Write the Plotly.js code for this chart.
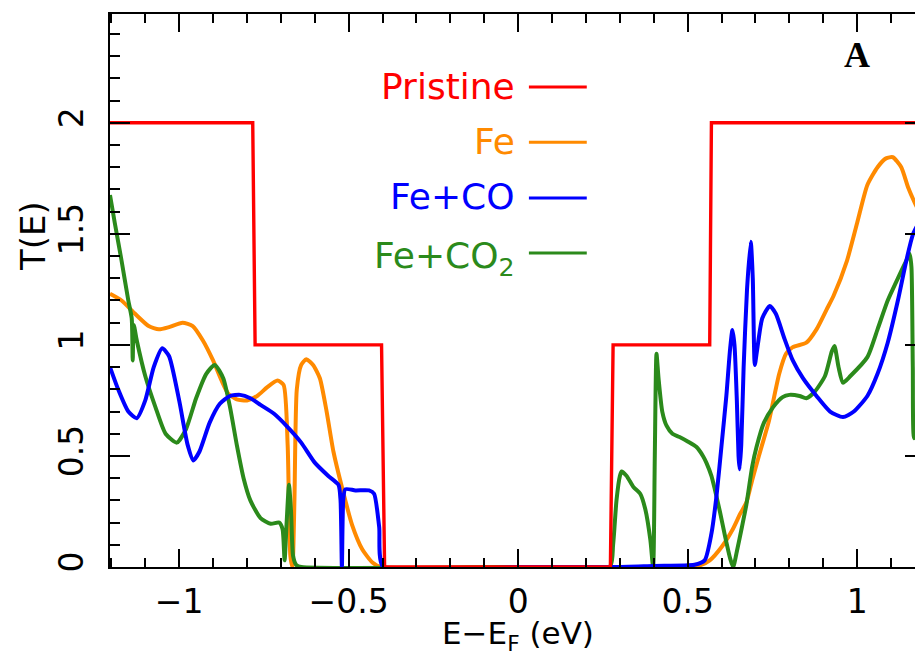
<!DOCTYPE html>
<html>
<head>
<meta charset="utf-8">
<script src="https://cdn.plot.ly/plotly-3.0.1.min.js"></script>
<style>
  html, body { margin: 0; padding: 0; background: #fff; overflow: hidden; }
  #chart { width: 940px; height: 660px; }
</style>
</head>
<body>
<div id="chart"></div>
<script>
// ---- Data ----
const seriesNames = ["Pristine", "Fe", "Fe+CO", "Fe+CO<sub>2</sub>"];

const xPristine = [-1.25, -0.783, -0.776, -0.403, -0.394, 0.272, 0.280, 0.565, 0.570, 1.25];
const yPristine = [2, 2, 1, 1, 0, 0, 1, 1, 2, 2];

const xFe = [-1.204, -1.17, -1.13, -1.09, -1.06, -1.03, -0.99, -0.96, -0.93, -0.90, -0.875, -0.855, -0.83, -0.80, -0.77, -0.74, -0.71, -0.692, -0.680, -0.672, -0.666, -0.660, -0.653, -0.64, -0.625, -0.605, -0.585, -0.565, -0.545, -0.52, -0.49, -0.46, -0.43, -0.405, 0.0, 0.40, 0.50, 0.54, 0.565, 0.60, 0.633, 0.655, 0.673, 0.69, 0.71, 0.74, 0.77, 0.79, 0.81, 0.85, 0.88, 0.91, 0.93, 0.97, 1.00, 1.03, 1.06, 1.085, 1.105, 1.13, 1.15, 1.17, 1.2];
const yFe = [1.23, 1.20, 1.14, 1.085, 1.07, 1.08, 1.10, 1.085, 1.02, 0.93, 0.84, 0.78, 0.755, 0.75, 0.77, 0.81, 0.84, 0.82, 0.55, 0.05, 0.0, 0.3, 0.8, 0.91, 0.935, 0.91, 0.85, 0.70, 0.52, 0.36, 0.19, 0.08, 0.02, 0.0, 0.0, 0.0, 0.0, 0.01, 0.03, 0.09, 0.17, 0.24, 0.29, 0.39, 0.50, 0.66, 0.87, 0.96, 0.99, 1.01, 1.07, 1.16, 1.22, 1.38, 1.55, 1.72, 1.80, 1.84, 1.845, 1.80, 1.71, 1.64, 1.55];

const xFeCO = [-1.204, -1.18, -1.15, -1.125, -1.10, -1.075, -1.05, -1.03, -1.00, -0.975, -0.958, -0.94, -0.91, -0.88, -0.85, -0.82, -0.79, -0.76, -0.72, -0.68, -0.64, -0.60, -0.56, -0.53, -0.524, -0.520, -0.516, -0.51, -0.48, -0.44, -0.425, -0.41, -0.398, 0.0, 0.28, 0.40, 0.52, 0.55, 0.57, 0.585, 0.60, 0.614, 0.625, 0.632, 0.638, 0.645, 0.650, 0.653, 0.658, 0.665, 0.675, 0.686, 0.692, 0.698, 0.705, 0.72, 0.742, 0.76, 0.785, 0.81, 0.84, 0.88, 0.92, 0.958, 0.99, 1.03, 1.06, 1.09, 1.12, 1.145, 1.165, 1.2];
const yFeCO = [0.90, 0.80, 0.70, 0.67, 0.75, 0.90, 0.985, 0.95, 0.75, 0.55, 0.48, 0.52, 0.65, 0.735, 0.77, 0.775, 0.76, 0.73, 0.69, 0.63, 0.56, 0.47, 0.41, 0.37, 0.30, 0.0, 0.30, 0.35, 0.345, 0.345, 0.33, 0.18, 0.0, 0.0, 0.0, 0.005, 0.01, 0.03, 0.15, 0.32, 0.55, 0.77, 0.98, 1.067, 1.0, 0.75, 0.50, 0.44, 0.55, 0.9, 1.25, 1.465, 1.3, 0.91, 0.98, 1.12, 1.175, 1.14, 1.03, 0.93, 0.85, 0.77, 0.70, 0.675, 0.70, 0.77, 0.87, 1.01, 1.20, 1.38, 1.50, 1.60];

const xFeCO2 = [-1.204, -1.19, -1.17, -1.15, -1.14, -1.137, -1.134, -1.125, -1.10, -1.07, -1.04, -1.007, -0.98, -0.95, -0.92, -0.895, -0.87, -0.85, -0.83, -0.81, -0.79, -0.76, -0.73, -0.705, -0.695, -0.689, -0.683, -0.676, -0.670, -0.664, -0.655, -0.64, 0.0, 0.27, 0.28, 0.29, 0.30, 0.305, 0.32, 0.34, 0.36, 0.375, 0.39, 0.398, 0.403, 0.408, 0.414, 0.425, 0.438, 0.455, 0.476, 0.50, 0.526, 0.545, 0.555, 0.57, 0.58, 0.595, 0.61, 0.625, 0.634, 0.645, 0.66, 0.673, 0.69, 0.703, 0.725, 0.752, 0.78, 0.80, 0.83, 0.85, 0.875, 0.905, 0.925, 0.933, 0.945, 0.958, 0.98, 1.03, 1.06, 1.09, 1.12, 1.145, 1.155, 1.16, 1.164, 1.168, 1.18, 1.2];
const yFeCO2 = [1.675, 1.55, 1.38, 1.20, 1.12, 0.93, 1.09, 1.02, 0.86, 0.72, 0.60, 0.56, 0.62, 0.76, 0.87, 0.91, 0.85, 0.72, 0.55, 0.40, 0.30, 0.22, 0.195, 0.20, 0.17, 0.03, 0.2, 0.37, 0.25, 0.05, 0.01, 0.0, 0.0, 0.0, 0.10, 0.30, 0.41, 0.43, 0.41, 0.36, 0.33, 0.26, 0.12, 0.0, 0.5, 0.96, 0.85, 0.70, 0.635, 0.60, 0.585, 0.565, 0.54, 0.50, 0.47, 0.41, 0.35, 0.25, 0.14, 0.04, 0.0, 0.07, 0.18, 0.28, 0.45, 0.54, 0.65, 0.72, 0.765, 0.775, 0.77, 0.76, 0.79, 0.86, 0.97, 0.995, 0.90, 0.83, 0.86, 0.945, 1.07, 1.20, 1.30, 1.38, 1.41, 1.35, 0.9, 0.58, 0.62, 0.70];

const xTickVals = [-1, -0.5, 0, 0.5, 1];
const xTickText = ["\u22121", "\u22120.5", "0", "0.5", "1"];
const yTickVals = [0, 0.5, 1, 1.5, 2];
const yTickText = ["0", "0.5", "1", "1.5", "2"];

const colors = ["#ff0000", "#ff8a00", "#0000ff", "#2b8a1b"];

// ---- Traces ----
const curveLine = (c) => ({ color: c, width: 4, shape: "spline", smoothing: 0.6 });
const traces = [
  { x: xFe, y: yFe, mode: "lines", line: curveLine(colors[1]), name: seriesNames[1] },
  { x: xFeCO2, y: yFeCO2, mode: "lines", line: curveLine(colors[3]), name: seriesNames[3] },
  { x: xFeCO, y: yFeCO, mode: "lines", line: curveLine(colors[2]), name: seriesNames[2] },
  { x: xPristine, y: yPristine, mode: "lines", line: { color: colors[0], width: 3.4 }, name: seriesNames[0] }
];

// ---- Legend (drawn as coloured text + short line) ----
const legendY = [0.8698, 0.7703, 0.6691, 0.5696];
const legendFont = { family: "DejaVu Sans, sans-serif", size: 36 };
const annotations = [];
const shapes = [];
seriesNames.forEach((n, i) => {
  annotations.push({
    xref: "paper", yref: "paper", x: 0.4994, y: legendY[i] + (i === 3 ? -0.012 : 0),
    xanchor: "right", yanchor: "middle", showarrow: false, text: n,
    font: Object.assign({}, legendFont, { color: colors[i] })
  });
  shapes.push({
    type: "line", xref: "paper", yref: "paper",
    x0: 0.514, x1: 0.585, y0: legendY[i] - 0.002, y1: legendY[i] - 0.002,
    line: { color: colors[i], width: 3 }
  });
});

annotations.push({
  xref: "paper", yref: "paper", x: -0.0945, y: 0.5986, textangle: -90,
  xanchor: "center", yanchor: "middle", showarrow: false, text: "T(E)",
  font: { family: "DejaVu Sans, sans-serif", size: 34, color: "#000" }
});
annotations.push({
  xref: "paper", yref: "paper", x: 0.5006, y: -0.124,
  xanchor: "center", yanchor: "middle", showarrow: false, text: "E\u2212E<sub>F</sub> (eV)",
  font: { family: "DejaVu Sans, sans-serif", size: 31, color: "#000" }
});
annotations.push({
  xref: "paper", yref: "paper", x: 0.9166, y: 0.9259,
  xanchor: "center", yanchor: "middle", showarrow: false, text: "<b>A</b>",
  font: { family: "Liberation Serif, serif", size: 36, color: "#000" }
});

const axisCommon = {
  showline: true, linecolor: "#000", linewidth: 2, mirror: "allticks",
  ticks: "inside", tickwidth: 2, tickcolor: "#000",
  showgrid: false, zeroline: false,
  tickfont: { family: "DejaVu Sans, sans-serif", size: 33, color: "#000" }
};

const layout = {
  width: 940, height: 660,
  margin: { l: 110, r: 15, t: 14, b: 93 },
  paper_bgcolor: "#fff", plot_bgcolor: "#fff",
  showlegend: false,
  xaxis: Object.assign({}, axisCommon, {
    range: [-1.204, 1.2], tickmode: "array", tickvals: xTickVals, ticktext: xTickText,
    ticklen: 18, ticklabelstandoff: 4,
    minor: { dtick: 0.1, tick0: 0, ticks: "inside", ticklen: 9, tickwidth: 2, tickcolor: "#000", showgrid: false }
  }),
  yaxis: Object.assign({}, axisCommon, {
    range: [0, 2.49], tickmode: "array", tickvals: yTickVals, ticktext: yTickText,
    ticklen: 20, tickangle: -90, ticklabelstandoff: 12,
    minor: { dtick: 0.1, tick0: 0, ticks: "inside", ticklen: 10, tickwidth: 2, tickcolor: "#000", showgrid: false }
  }),
  annotations: annotations,
  shapes: shapes
};

Plotly.newPlot("chart", traces, layout, { staticPlot: true, displayModeBar: false });
</script>
</body>
</html>
